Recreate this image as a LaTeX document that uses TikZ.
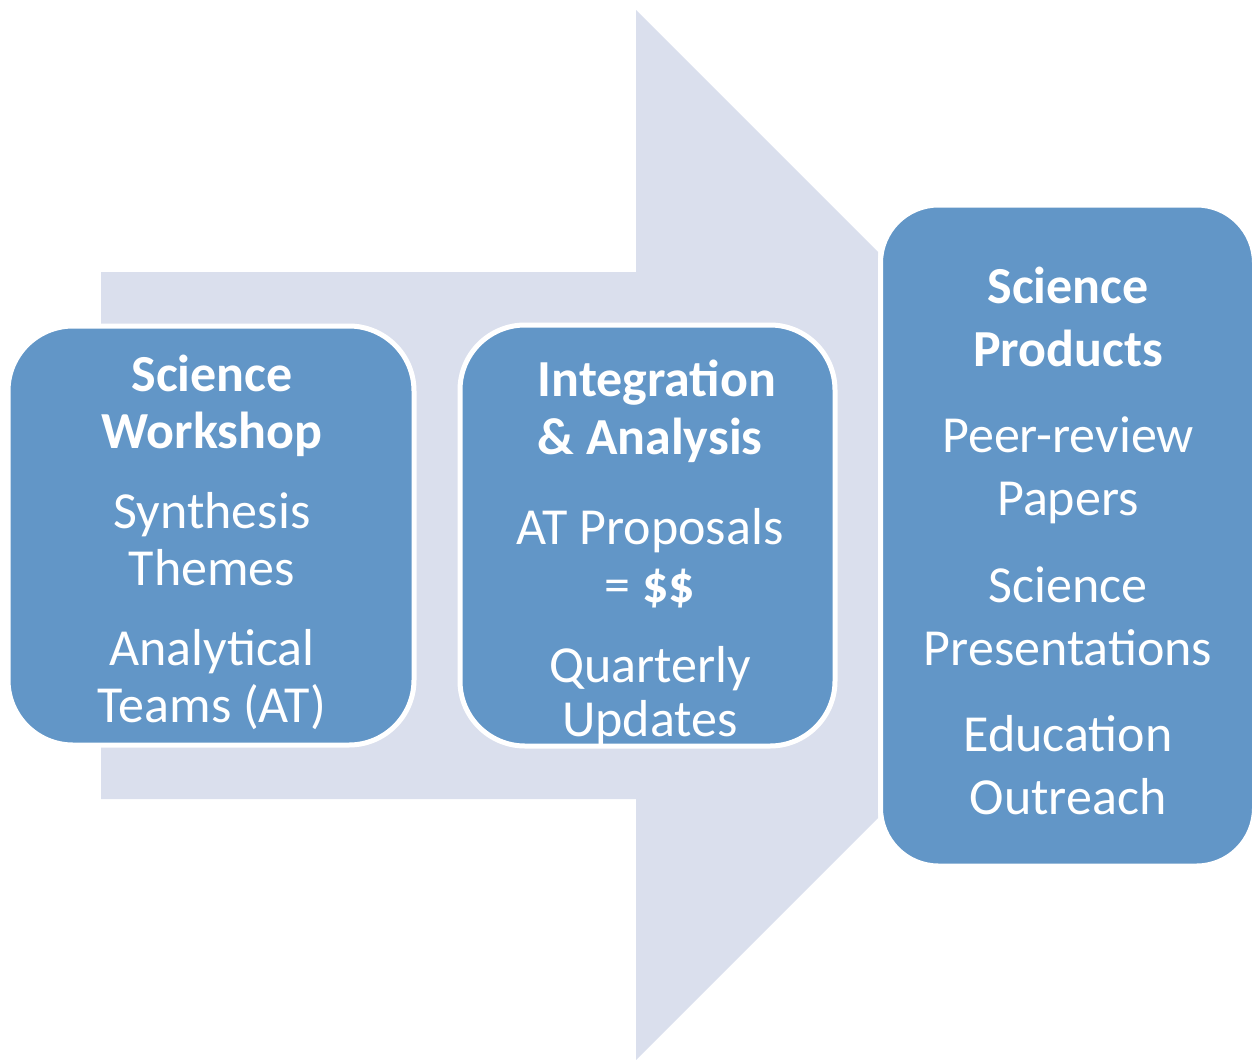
\documentclass[tikz,border=0pt]{standalone}
\usepackage{fontspec}
\setmainfont{Carlito}
\usetikzlibrary{positioning}
\definecolor{flowlav}{RGB}{218,223,237}
\definecolor{stageblue}{RGB}{98,150,199}

\begin{document}
\begin{tikzpicture}[
  x=1pt, y=-1pt,
  stage/.style={draw=white, line width=5pt, fill=stageblue, rounded corners=65pt,
                inner sep=0pt},
  stagetext/.style={text=white, align=center, anchor=base,
                    font=\fontsize{52}{57}\selectfont}
]
\useasboundingbox (0,0) rectangle (1253,1060);

% Background flow arrow
\fill[flowlav] (101,272) -- (636,272) -- (636,10) -- (878,252) -- (878,818)
  -- (636,1060) -- (636,799) -- (101,799) -- cycle;

% Stage boxes
\node[stage, minimum width=406pt, minimum height=419pt] (workshop) at (211,535.5) {};
\node[stage, minimum width=375pt, minimum height=421pt] (integ) at (647.5,535.5) {};
\node[stage, minimum width=374pt, minimum height=661pt, rounded corners=58pt] (products) at (1067.5,535.5) {};

% Stage texts (node base = last baseline)
\node[stagetext] (workshoptxt) at (212,722)
  {\textbf{Science}\\\textbf{Workshop}\\[23pt]Synthesis\\Themes\\[23pt]Analytical\\Teams (AT)};
\node[stagetext, font=\fontsize{52}{58}\selectfont] (integtxt) at (650,736)
  {\hspace*{14pt}\textbf{Integration}\\\textbf{\& Analysis}\\[32pt]AT Proposals\\= \textbf{\$\$}\\[22pt]Quarterly\\[-4pt]Updates};
\node[stagetext, font=\fontsize{52}{63}\selectfont] (productstxt) at (1068,814)
  {\textbf{Science}\\\textbf{Products}\\[23pt]Peer-review\\Papers\\[24pt]Science\\Presentations\\[23pt]Education\\Outreach};

\end{tikzpicture}
\end{document}
